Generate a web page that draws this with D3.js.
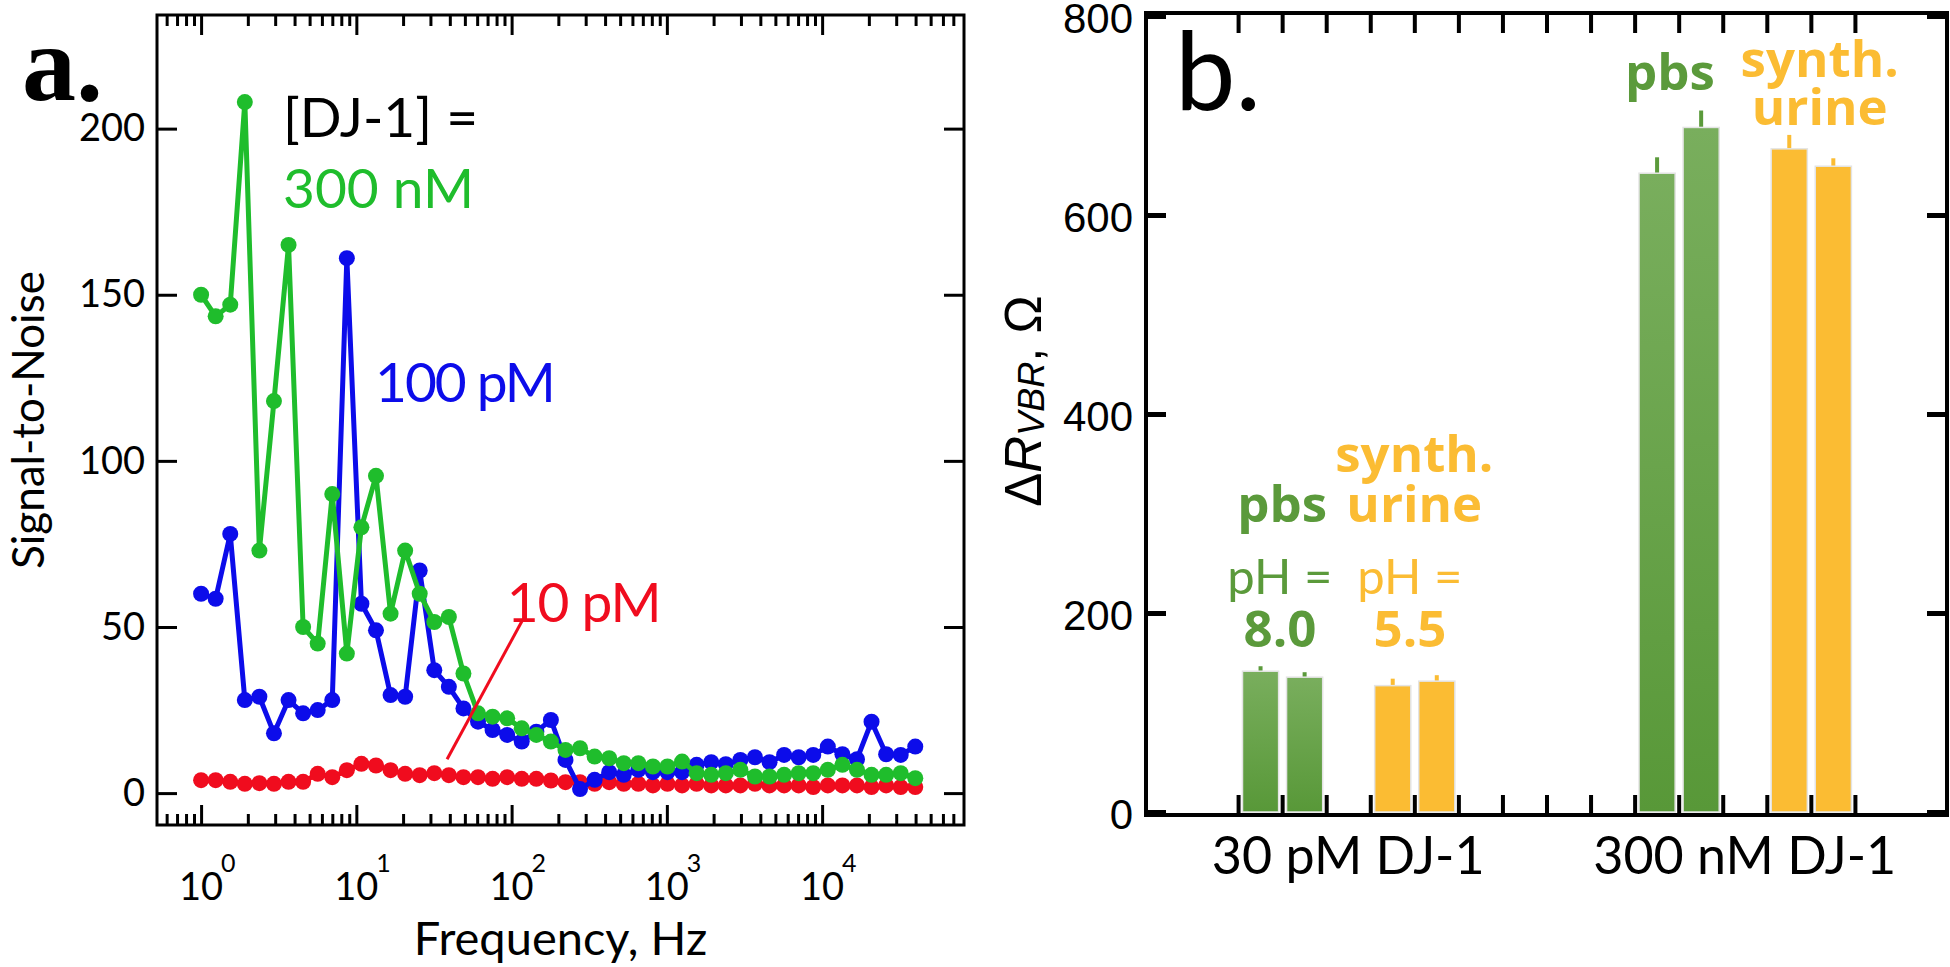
<!DOCTYPE html>
<html>
<head>
<meta charset="utf-8">
<title>DJ-1 sensor</title>
<script src="https://cdn.jsdelivr.net/npm/d3@7"></script>
<style>
  body { margin: 0; background: #fff; }
  svg text { font-family: Lato, "Open Sans", sans-serif; fill: #000; }
</style>
</head>
<body>
<div id="chart"></div>
<script>
// ---- panel a : signal-to-noise vs frequency ----
const freq = [1, 1.241, 1.541, 1.913, 2.374, 2.947, 3.658, 4.541, 5.637, 6.997,
  8.685, 10.78, 13.38, 16.61, 20.62, 25.59, 31.77, 39.43, 48.95, 60.76,
  75.42, 93.62, 116.2, 144.3, 179.1, 222.3, 275.9, 342.5, 425.2, 527.8,
  655.1, 813.2, 1009, 1253, 1555, 1931, 2397, 2975, 3693, 4584,
  5690, 7063, 8767, 10880, 13510, 16770, 20810, 25840, 32070, 39810];

const snr300nM = [150, 143.5, 147, 208, 73, 118, 165, 50, 45, 90,
  42, 80, 95.5, 54, 73, 60, 51.5, 53, 36, 24,
  23, 22.5, 19.5, 17.5, 15.5, 13, 13.5, 11, 10.5, 9,
  9, 8, 8, 9.5, 6, 5.5, 6, 7, 5, 5,
  5.5, 6, 6, 7, 8.5, 7, 5.5, 5.5, 6, 4.5];

const snr100pM = [60, 58.5, 78, 28, 29, 18, 28, 24, 25, 28,
  161, 57, 49, 29.5, 29, 67, 37, 32, 25.5, 21.5,
  19, 17.5, 15.5, 18.5, 22, 10, 1.2, 4, 6.3, 5.5,
  7, 6.3, 6.3, 6.3, 8.5, 9.3, 8.7, 10, 10.8, 9.3,
  11.5, 10.8, 11.5, 14, 11.7, 10.2, 21.5, 11.7, 11.5, 14];

const snr10pM = [3.9, 3.9, 3.4, 2.8, 3.0, 2.8, 3.4, 3.4, 5.8, 4.8,
  6.9, 8.8, 8.3, 6.9, 5.8, 5.4, 6.0, 5.4, 4.8, 4.8,
  4.3, 4.8, 4.3, 4.3, 3.8, 3.3, 3.3, 2.8, 3.3, 2.8,
  2.8, 2.3, 2.8, 2.3, 2.8, 2.3, 2.3, 2.3, 2.8, 2.3,
  2.3, 2.3, 1.8, 2.3, 2.3, 2.3, 1.8, 2.3, 1.8, 1.8];

const freqTicks = [1, 10, 100, 1000, 10000];
const snrTicks = [0, 50, 100, 150, 200];

// ---- panel b : resistance change ----
const groups = ["30 pM DJ-1", "300 nM DJ-1"];
const media = ["pbs", "pbs", "urine", "urine"];
const deltaR = [[141.5, 135.5, 127, 131.5], [642, 688, 666.5, 649]];
const deltaRerr = [[5, 5, 7, 6], [16, 17, 14, 8]];
const rTicks = [0, 200, 400, 600, 800];

const green = "#1fbd2c", blue = "#0c0cea", red = "#f00c1e";
const pbsGreen = "#5b9a3b", urineYellow = "#fbbc33";

const svg = d3.select("#chart").append("svg")
  .attr("width", 1950).attr("height", 967);

function cleanTicks(g, w) {
  g.select(".domain").remove();
  g.selectAll(".tick line").attr("stroke", "#000").attr("stroke-width", w);
}

// ================= panel a =================
const pa = {left: 157, right: 964, top: 15, bottom: 825};
const x = d3.scaleLog().domain([0.52, 8.2e4]).range([pa.left, pa.right]);
const y = d3.scaleLinear().domain([-9.6, 234.2]).range([pa.bottom, pa.top]);

const minor = [];
for (let e = -1; e <= 4; e++) {
  for (let m = 2; m <= 9; m++) {
    const v = m * Math.pow(10, e);
    if (x(v) > pa.left + 4 && x(v) < pa.right - 4) minor.push(v);
  }
}

const ga = svg.append("g");

ga.append("g").attr("transform", `translate(0,${pa.bottom})`)
  .call(d3.axisBottom(x).tickValues(freqTicks).tickSize(-20).tickFormat(""))
  .call(g => cleanTicks(g, 3));
ga.append("g").attr("transform", `translate(0,${pa.bottom})`)
  .call(d3.axisBottom(x).tickValues(minor).tickSize(-11).tickFormat(""))
  .call(g => cleanTicks(g, 3));
ga.append("g").attr("transform", `translate(0,${pa.top})`)
  .call(d3.axisTop(x).tickValues(freqTicks).tickSize(-20).tickFormat(""))
  .call(g => cleanTicks(g, 3));
ga.append("g").attr("transform", `translate(0,${pa.top})`)
  .call(d3.axisTop(x).tickValues(minor).tickSize(-11).tickFormat(""))
  .call(g => cleanTicks(g, 3));

ga.append("g").attr("transform", `translate(${pa.left},0)`)
  .call(d3.axisLeft(y).tickValues(snrTicks).tickSize(-20).tickPadding(12))
  .call(g => cleanTicks(g, 3))
  .call(g => g.selectAll("text").attr("font-size", 38).attr("font-family", "Lato").attr("fill", "#000"));
ga.append("g").attr("transform", `translate(${pa.right},0)`)
  .call(d3.axisRight(y).tickValues(snrTicks).tickSize(-20).tickFormat(""))
  .call(g => cleanTicks(g, 3));

ga.append("rect")
  .attr("x", pa.left).attr("y", pa.top)
  .attr("width", pa.right - pa.left).attr("height", pa.bottom - pa.top)
  .attr("fill", "none").attr("stroke", "#000").attr("stroke-width", 3);

// decade labels 10^n
const dec = ga.append("g").selectAll("g").data(freqTicks).join("g");
dec.append("text")
  .attr("x", d => x(d)).attr("y", 900)
  .attr("text-anchor", "middle").attr("font-size", 38)
  .text("10");
dec.append("text")
  .attr("x", d => x(d) + 20).attr("y", 872)
  .attr("font-size", 25)
  .text(d => Math.round(Math.log10(d)));

ga.append("text")
  .attr("x", (pa.left + pa.right) / 2).attr("y", 955)
  .attr("text-anchor", "middle").attr("font-size", 47)
  .text("Frequency, Hz");

ga.append("text")
  .attr("transform", `translate(44,${(pa.top + pa.bottom) / 2}) rotate(-90)`)
  .attr("text-anchor", "middle").attr("font-size", 44)
  .text("Signal-to-Noise");

const series = [
  {values: snr10pM, color: red},
  {values: snr100pM, color: blue},
  {values: snr300nM, color: green}
];
const line = d3.line().x(d => x(d[0])).y(d => y(d[1]));

series.forEach(s => {
  const pts = freq.map((f, i) => [f, s.values[i]]);
  ga.append("path").datum(pts)
    .attr("d", line).attr("fill", "none")
    .attr("stroke", s.color).attr("stroke-width", 5)
    .attr("stroke-linejoin", "round");
  ga.append("g").selectAll("circle").data(pts).join("circle")
    .attr("cx", d => x(d[0])).attr("cy", d => y(d[1]))
    .attr("r", 8).attr("fill", s.color);
});

// annotations
ga.append("line")
  .attr("x1", x(38.4)).attr("y1", y(10.2))
  .attr("x2", x(116.7)).attr("y2", y(51.8))
  .attr("stroke", red).attr("stroke-width", 3);

const noteA = [
  {f: 3.37, v: 197.4, text: "[DJ-1] =", color: "#000", ls: 0},
  {f: 3.37, v: 176, text: "300 nM", color: green, ls: 0},
  {f: 13.2, v: 117.7, text: "100 pM", color: blue, ls: -2},
  {f: 93, v: 51.5, text: "10 pM", color: red, ls: -1}
];
ga.append("g").selectAll("text").data(noteA).join("text")
  .attr("x", d => x(d.f)).attr("y", d => y(d.v))
  .attr("font-size", 55)
  .attr("letter-spacing", d => d.ls)
  .style("fill", d => d.color)
  .text(d => d.text);

svg.append("text")
  .attr("x", 22).attr("y", 100)
  .attr("font-size", 108).attr("font-weight", "bold")
  .style("font-family", "'Liberation Serif', serif")
  .text("a.");

// ================= panel b =================
const pb = {left: 1146, right: 1947, top: 13, bottom: 815};
const xb = d3.scaleLinear().domain([-2.09, 16.09]).range([pb.left, pb.right]);
const yb = d3.scaleLinear().domain([0, 800]).range([812, 16]);
const slotOf = [0, 1, 3, 4];

const gb = svg.append("g");

const grad = svg.append("defs").append("linearGradient")
  .attr("id", "pbsGrad").attr("x1", "0%").attr("x2", "0%")
  .attr("y1", "0%").attr("y2", "100%");
grad.append("stop").attr("offset", "0%").attr("stop-color", "#79ae5d");
grad.append("stop").attr("offset", "100%").attr("stop-color", "#589838");

const bars = [];
groups.forEach((g, gi) => {
  media.forEach((m, bi) => {
    bars.push({slot: gi * 9 + slotOf[bi], medium: m,
      value: deltaR[gi][bi], err: deltaRerr[gi][bi]});
  });
});

gb.append("g").selectAll("line").data(bars).join("line")
  .attr("x1", d => xb(d.slot + 0.51)).attr("x2", d => xb(d.slot + 0.51))
  .attr("y1", d => yb(d.value)).attr("y2", d => yb(d.value + d.err))
  .attr("stroke", d => d.medium === "pbs" ? pbsGreen : urineYellow)
  .attr("stroke-width", 4);

gb.append("g").selectAll("rect").data(bars).join("rect")
  .attr("x", d => xb(d.slot + 0.1))
  .attr("width", xb(0.92) - xb(0.1))
  .attr("y", d => yb(d.value))
  .attr("height", d => yb(0) - yb(d.value))
  .attr("fill", d => d.medium === "pbs" ? "url(#pbsGrad)" : urineYellow)
  .attr("stroke", "#e4e4e4").attr("stroke-width", 1.5);

const slotTicks = d3.range(0, 15);
gb.append("g").attr("transform", `translate(0,${pb.bottom})`)
  .call(d3.axisBottom(xb).tickValues(slotTicks).tickSize(-20).tickFormat(""))
  .call(g => cleanTicks(g, 4));
gb.append("g").attr("transform", `translate(0,${pb.top})`)
  .call(d3.axisTop(xb).tickValues(slotTicks).tickSize(-20).tickFormat(""))
  .call(g => cleanTicks(g, 4));
gb.append("g").attr("transform", `translate(${pb.left},0)`)
  .call(d3.axisLeft(yb).tickValues(rTicks).tickSize(-20).tickPadding(13))
  .call(g => cleanTicks(g, 5))
  .call(g => g.selectAll("text").attr("font-size", 42).attr("dy", "0.4em")
    .style("font-family", "'Liberation Sans', Arial, sans-serif").attr("fill", "#000"));
gb.append("g").attr("transform", `translate(${pb.right},0)`)
  .call(d3.axisRight(yb).tickValues(rTicks).tickSize(-20).tickFormat(""))
  .call(g => cleanTicks(g, 5));

gb.append("rect")
  .attr("x", pb.left).attr("y", pb.top)
  .attr("width", pb.right - pb.left).attr("height", pb.bottom - pb.top)
  .attr("fill", "none").attr("stroke", "#000").attr("stroke-width", 4);

gb.append("g").selectAll("text").data(groups).join("text")
  .attr("x", (d, i) => xb(i * 9 + 2.5)).attr("y", 874)
  .attr("text-anchor", "middle").attr("font-size", 52)
  .text(d => d);

const yTitle = gb.append("text")
  .attr("transform", `translate(1041,401) rotate(-90)`)
  .attr("text-anchor", "middle").attr("font-size", 51)
  .style("font-family", "'Liberation Sans', Arial, sans-serif");
yTitle.append("tspan").text("\u0394");
yTitle.append("tspan").attr("font-style", "italic").text("R");
yTitle.append("tspan").attr("font-style", "italic").attr("font-size", 36).attr("dy", 3).text("VBR");
yTitle.append("tspan").attr("dy", -3).text(", \u03A9");

const noteB = [
  {slot: 4, v: 341.7, text: "synth.", color: urineYellow, bold: true},
  {slot: 1, v: 291.5, text: "pbs", color: pbsGreen, bold: true},
  {slot: 4, v: 291.5, text: "urine", color: urineYellow, bold: true},
  {slot: 0.95, v: 219, text: "pH =", color: pbsGreen, bold: false},
  {slot: 3.9, v: 219, text: "pH =", color: urineYellow, bold: false},
  {slot: 0.95, v: 165.8, text: "8.0", color: pbsGreen, bold: true},
  {slot: 3.9, v: 165.8, text: "5.5", color: urineYellow, bold: true},
  {slot: 9.8, v: 725.6, text: "pbs", color: pbsGreen, bold: true},
  {slot: 13.2, v: 738.7, text: "synth.", color: urineYellow, bold: true},
  {slot: 13.2, v: 690.5, text: "urine", color: urineYellow, bold: true}
];
gb.append("g").selectAll("text").data(noteB).join("text")
  .attr("x", d => xb(d.slot)).attr("y", d => yb(d.v))
  .attr("text-anchor", "middle")
  .attr("font-size", d => d.bold ? 51 : 49)
  .attr("font-weight", d => d.bold ? "bold" : "normal")
  .style("font-family", d => d.bold ? "'Open Sans', sans-serif" : "Lato, sans-serif")
  .style("fill", d => d.color)
  .text(d => d.text);

svg.append("text")
  .attr("x", 1175).attr("y", 110)
  .attr("font-size", 108)
  .text("b.");
</script>
</body>
</html>
